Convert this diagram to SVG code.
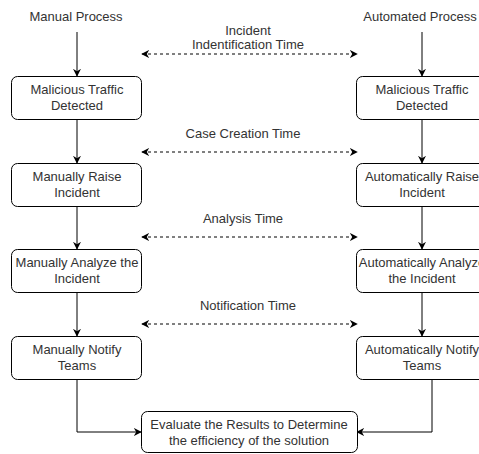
<svg xmlns="http://www.w3.org/2000/svg" width="479" height="454" viewBox="0 0 479 454">
<style>
.box{fill:#fff;stroke:#000;stroke-width:1}
text{font-family:"Liberation Sans",Arial,sans-serif;font-size:13px;fill:#333;text-anchor:middle}
.c{fill:none;stroke:#000;stroke-width:1}
.d{fill:none;stroke:#000;stroke-width:1;stroke-dasharray:3 3}
</style>
<defs>
<marker id="a" viewBox="0 0 10 10" refX="9" refY="5" markerWidth="8" markerHeight="8" markerUnits="userSpaceOnUse" orient="auto-start-reverse">
<path d="M0,0 L10,5 L0,10 L3,5 Z" fill="#000"/>
</marker>
</defs>
<rect width="479" height="454" fill="#fff"/>
<g id="connectors">
<path class="c" d="M77,32 V76" marker-end="url(#a)"/>
<path class="c" d="M77,119 V163" marker-end="url(#a)"/>
<path class="c" d="M77,206 V249" marker-end="url(#a)"/>
<path class="c" d="M77,292 V336" marker-end="url(#a)"/>
<path class="c" d="M422,32 V76" marker-end="url(#a)"/>
<path class="c" d="M422,119 V163" marker-end="url(#a)"/>
<path class="c" d="M422,206 V249" marker-end="url(#a)"/>
<path class="c" d="M422,292 V336" marker-end="url(#a)"/>
<path class="c" d="M77,379 V432 H141" marker-end="url(#a)"/>
<path class="c" d="M432,379 V432 H357" marker-end="url(#a)"/>
<path class="d" d="M142,54 H357" marker-start="url(#a)" marker-end="url(#a)"/>
<path class="d" d="M142,152 H357" marker-start="url(#a)" marker-end="url(#a)"/>
<path class="d" d="M142,237 H357" marker-start="url(#a)" marker-end="url(#a)"/>
<path class="d" d="M142,324 H357" marker-start="url(#a)" marker-end="url(#a)"/>
<text x="248" y="35">Incident</text>
<text x="248" y="49">Indentification Time</text>
<text x="243" y="138">Case Creation Time</text>
<text x="243" y="223">Analysis Time</text>
<text x="248" y="310">Notification Time</text>
</g>
<g id="manual-title"><text x="76" y="21">Manual Process</text></g>
<g id="auto-title"><text x="420" y="21">Automated Process</text></g>
<g id="m1"><rect class="box" x="11.5" y="76.5" width="130" height="43" rx="6"/><text x="77" y="94">Malicious Traffic</text><text x="77" y="110">Detected</text></g>
<g id="m2"><rect class="box" x="11.5" y="163.5" width="130" height="43" rx="6"/><text x="77" y="181">Manually Raise</text><text x="77" y="197">Incident</text></g>
<g id="m3"><rect class="box" x="11.5" y="249.5" width="130" height="43" rx="6"/><text x="77" y="267">Manually Analyze the</text><text x="77" y="283">Incident</text></g>
<g id="m4"><rect class="box" x="11.5" y="336.5" width="130" height="43" rx="6"/><text x="77" y="354">Manually Notify</text><text x="77" y="370">Teams</text></g>
<g id="a1"><rect class="box" x="356.5" y="76.5" width="131" height="43" rx="6"/><text x="422" y="94">Malicious Traffic</text><text x="422" y="110">Detected</text></g>
<g id="a2"><rect class="box" x="356.5" y="163.5" width="131" height="43" rx="6"/><text x="422" y="181">Automatically Raise</text><text x="422" y="197">Incident</text></g>
<g id="a3"><rect class="box" x="356.5" y="249.5" width="131" height="43" rx="6"/><text x="422" y="267">Automatically Analyze</text><text x="422" y="283">the Incident</text></g>
<g id="a4"><rect class="box" x="356.5" y="336.5" width="131" height="43" rx="6"/><text x="422" y="354">Automatically Notify</text><text x="422" y="370">Teams</text></g>
<g id="eval"><rect class="box" x="141.5" y="411.5" width="216" height="41" rx="6"/><text x="249" y="429">Evaluate the Results to Determine</text><text x="249" y="445">the efficiency of the solution</text></g>
</svg>
